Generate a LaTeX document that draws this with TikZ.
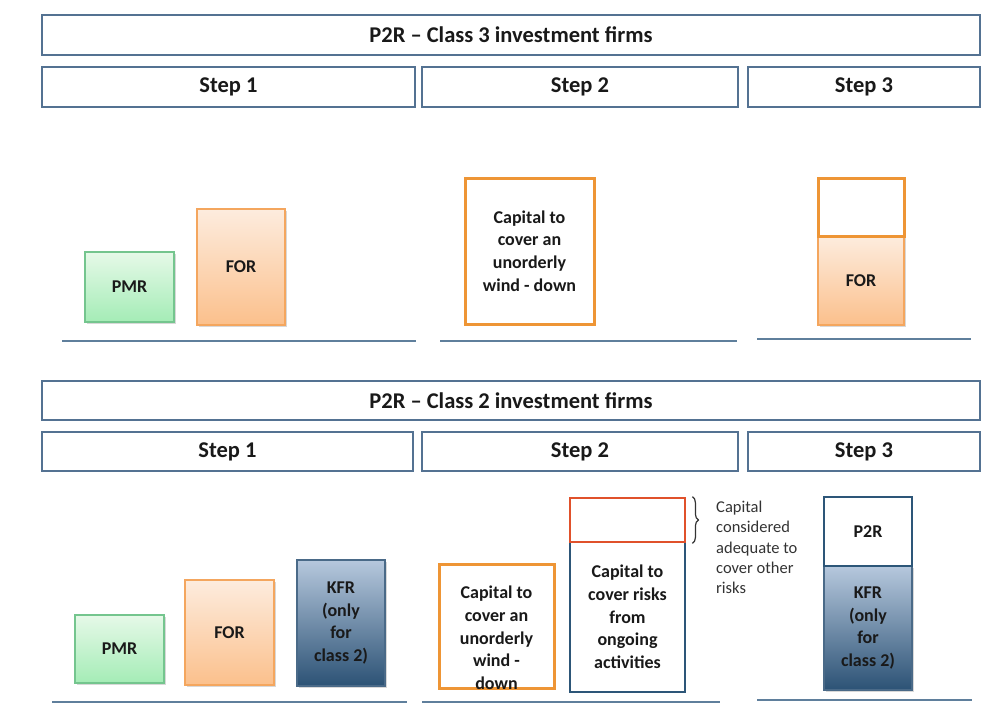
\documentclass[tikz,border=0pt]{standalone}
\usepackage{fontspec}
\setmainfont{Carlito}
\usetikzlibrary{shadows,decorations.pathreplacing}

\definecolor{frameline}{RGB}{84,114,146}
\definecolor{baseline}{RGB}{95,127,156}
\definecolor{greentop}{RGB}{230,249,232}
\definecolor{greenbot}{RGB}{164,236,182}
\definecolor{greenline}{RGB}{116,197,142}
\definecolor{orangetop}{RGB}{253,236,222}
\definecolor{orangebot}{RGB}{251,192,140}
\definecolor{orangeline}{RGB}{244,166,94}
\definecolor{orangeedge}{RGB}{238,149,53}
\definecolor{bluetop}{RGB}{182,200,221}
\definecolor{bluebot}{RGB}{44,82,117}
\definecolor{blueline}{RGB}{74,106,136}
\definecolor{navyedge}{RGB}{45,86,120}
\definecolor{rededge}{RGB}{224,81,43}

\begin{document}
\begin{tikzpicture}[x=1pt,y=-1pt,
  softshadow/.style={drop shadow={shadow xshift=1.5pt,shadow yshift=-1.5pt,opacity=0.25,fill=black!60}},
  header/.style={draw=frameline,line width=1.6pt,fill=white,inner sep=0pt,
    font=\fontsize{22.5}{26}\selectfont\bfseries,text=black!90},
  bar/.style={inner sep=0pt,align=center,font=\fontsize{18}{22.7}\selectfont\bfseries,text=black!90},
  pmrbox/.style={bar,draw=greenline,line width=1.4pt,top color=greentop,bottom color=greenbot,softshadow},
  forbox/.style={bar,draw=orangeline,line width=1.4pt,top color=orangetop,bottom color=orangebot,softshadow},
  kfrbox/.style={bar,draw=blueline,line width=1.4pt,top color=bluetop,bottom color=bluebot,softshadow},
  orangeframe/.style={bar,draw=orangeedge,line width=3pt,fill=white},
  navyframe/.style={bar,draw=navyedge,line width=2.8pt,fill=white},
  redframe/.style={bar,draw=rededge,line width=2.8pt,fill=white},
  ground/.style={draw=baseline,line width=1.8pt},
  note/.style={inner sep=0pt,align=left,font=\fontsize{16.5}{20.3}\selectfont,text=black!80}
]
\useasboundingbox[fill=white] (0,0) rectangle (988,718);

% ---------- Class 3 ----------
\node[header,minimum width=938pt,minimum height=40pt] (t3) at (511,35) {P2R – Class 3 investment firms};
\node[header,minimum width=373pt,minimum height=40pt] (s31) at (228.5,87) {Step 1};
\node[header,minimum width=316pt,minimum height=40pt] (s32) at (580,87) {Step 2};
\node[header,minimum width=232pt,minimum height=40pt] (s33) at (864,87) {Step 3};

\node[pmrbox,minimum width=89pt,minimum height=70pt] (pmr3) at (129.5,287) {PMR};
\node[forbox,minimum width=88pt,minimum height=116pt] (for3) at (241,267) {FOR};

\node[orangeframe,minimum width=129pt,minimum height=146pt] (wd3) at (529.5,251)
  {Capital to\\cover an\\unorderly\\wind - down};

\node[forbox,minimum width=86pt,minimum height=89pt] (forb3) at (861,280.5) {FOR};
\node[orangeframe,minimum width=86pt,minimum height=58pt] (top3) at (861,207) {};

\coordinate (g31a) at (62,341);  \coordinate (g31b) at (416,341);
\coordinate (g32a) at (440,341); \coordinate (g32b) at (737,341);
\coordinate (g33a) at (757,339); \coordinate (g33b) at (971,339);
\draw[ground] (g31a) -- (g31b);
\draw[ground] (g32a) -- (g32b);
\draw[ground] (g33a) -- (g33b);

% ---------- Class 2 ----------
\node[header,minimum width=938pt,minimum height=39pt] (t2) at (511,400.5) {P2R – Class 2 investment firms};
\node[header,minimum width=371pt,minimum height=39pt] (s21) at (227.5,451.5) {Step 1};
\node[header,minimum width=316pt,minimum height=39pt] (s22) at (580,451.5) {Step 2};
\node[header,minimum width=232pt,minimum height=39pt] (s23) at (864,451.5) {Step 3};

\node[pmrbox,minimum width=89pt,minimum height=68pt] (pmr2) at (119.5,649) {PMR};
\node[forbox,minimum width=89pt,minimum height=105pt] (for2) at (229.5,632.5) {FOR};
\node[kfrbox,minimum width=88pt,minimum height=126pt] (kfr2) at (341,623) {KFR\\(only\\for\\class 2)};

\node[orangeframe,minimum width=115pt,minimum height=124pt] (wd2) at (496.5,626) {};
\node[bar] (wd2text) at (496.5,638) {Capital to\\cover an\\unorderly\\wind -\\down};

\node[navyframe,minimum width=115pt,minimum height=150pt] (og2) at (627.5,617)
  {Capital to\\cover risks\\from\\ongoing\\activities};
\node[redframe,minimum width=115pt,minimum height=44pt] (oth2) at (627.5,520) {};
\draw[line width=1.2pt,black!80,decorate,decoration={brace,amplitude=6pt}]
  ([xshift=6pt]oth2.north east) -- ([xshift=6pt]oth2.south east);
\node[note,anchor=north west] (othtext) at (716,501)
  {Capital\\considered\\adequate to\\cover other\\risks};

\node[kfrbox,minimum width=88pt,minimum height=124pt] (kfr2b) at (868,628) {KFR\\(only\\for\\class 2)};
\node[navyframe,minimum width=88pt,minimum height=69pt] (p2r2) at (868,531.5) {P2R};

\coordinate (g21a) at (52,702);  \coordinate (g21b) at (407,702);
\coordinate (g22a) at (422,702); \coordinate (g22b) at (720,702);
\coordinate (g23a) at (757,700); \coordinate (g23b) at (972,700);
\draw[ground] (g21a) -- (g21b);
\draw[ground] (g22a) -- (g22b);
\draw[ground] (g23a) -- (g23b);
\end{tikzpicture}
\end{document}
